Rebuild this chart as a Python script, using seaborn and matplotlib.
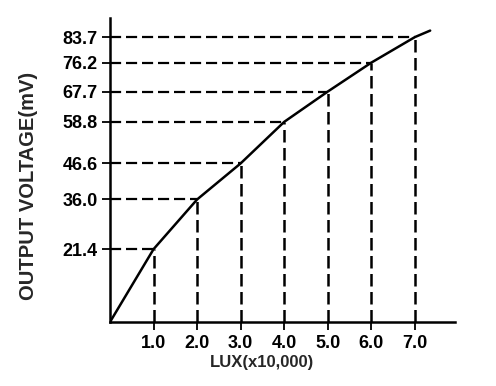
import matplotlib
matplotlib.use("Agg")
import matplotlib.pyplot as plt
import seaborn as sns
import pandas as pd

# Data
lux = [1.0, 2.0, 3.0, 4.0, 5.0, 6.0, 7.0]
voltage = [21.4, 36.0, 46.6, 58.8, 67.7, 76.2, 83.7]
curve_lux = [0.0, 1.0, 2.0, 3.0, 4.0, 5.0, 6.0, 7.0, 7.35]
curve_voltage = [0.0, 21.4, 36.0, 46.6, 58.8, 67.7, 76.2, 83.7, 85.6]
xtick_labels = ["1.0", "2.0", "3.0", "4.0", "5.0", "6.0", "7.0"]
ytick_labels = ["21.4", "36.0", "46.6", "58.8", "67.7", "76.2", "83.7"]

sns.set_style("white")
plt.rcParams['font.family'] = ['Liberation Sans', 'DejaVu Sans']

fig = plt.figure(figsize=(4.96, 3.86), dpi=100)
ax = fig.add_axes([110/496, 1 - 322/386, (455-110)/496, (322-18)/386])

df = pd.DataFrame({"lux": curve_lux, "v": curve_voltage})
sns.lineplot(data=df, x="lux", y="v", ax=ax, color="black", linewidth=1.8, sort=False)

ax.hlines(voltage, 0, lux, colors="black", linestyles=(0, (5, 2.2)), linewidth=1.6)
ax.vlines(lux, 0, voltage, colors="black", linestyles=(0, (5, 2.2)), linewidth=1.8)

ax.set_xlim(0, 7.92)
ax.set_ylim(0, 89.3)
ax.set_xticks(lux)
ax.set_xticklabels(xtick_labels)
ax.set_yticks(voltage)
ax.set_yticklabels(ytick_labels)

for s in ["top", "right"]:
    ax.spines[s].set_visible(False)
for s in ["left", "bottom"]:
    ax.spines[s].set_linewidth(1.8)
    ax.spines[s].set_color("black")

ax.tick_params(axis="both", which="major", direction="out", length=6, width=1.3,
               color="black", labelsize=13, labelcolor="black", pad=3,
               left=True, bottom=True)
for lbl in ax.get_xticklabels() + ax.get_yticklabels():
    lbl.set_fontweight("bold")

ax.set_xlabel("LUX(x10,000)", fontsize=12, fontweight="bold")
ax.set_ylabel("OUTPUT VOLTAGE(mV)", fontsize=14.5, fontweight="bold")
ax.xaxis.set_label_coords(0.44, -0.108)
ax.yaxis.set_label_coords(-0.21, 0.446)

fig.savefig("out.png", dpi=100)
